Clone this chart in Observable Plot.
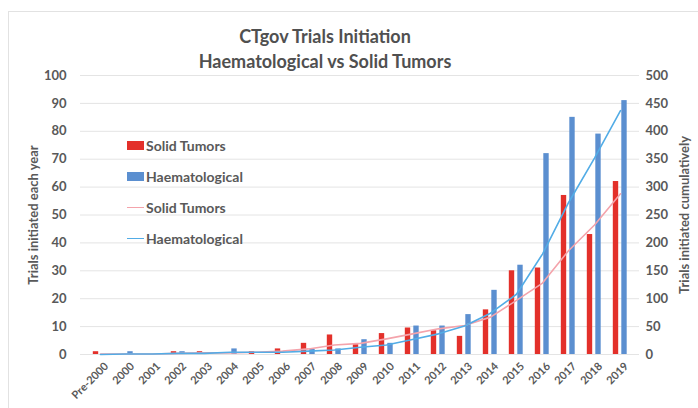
<!DOCTYPE html>
<html>
<head>
<meta charset="utf-8">
<script src="https://cdn.jsdelivr.net/npm/d3@7"></script>
<script src="https://cdn.jsdelivr.net/npm/@observablehq/plot@0.6"></script>
<style>
  html, body { margin: 0; padding: 0; background: #fff; }
  #wrap { position: relative; width: 698px; height: 408px; overflow: hidden; font-family: Lato, "Open Sans", sans-serif; }
  #frame { position: absolute; left: 8px; top: 11px; width: 720px; height: 420px; border: 1px solid #e2e2e2; box-sizing: border-box; pointer-events: none; }
  #title { position: absolute; left: 0; top: 24px; width: 650px; text-align: center; font-weight: 700; font-size: 18px; line-height: 25px; color: #505050; }
  #legend { position: absolute; left: 127px; top: 130px; font-weight: 700; font-size: 14px; color: #595959; }
  .row { height: 31px; display: flex; align-items: center; }
  .sw { width: 17px; height: 9px; margin-right: 2px; }
  .ln { width: 17px; height: 0; border-top: 1.5px solid; margin-right: 2px; }
</style>
</head>
<body>
<div id="wrap">
  <div id="frame"></div>
  <div id="chart"></div>
  <div id="title">CTgov Trials Initiation<br>Haematological vs Solid Tumors</div>
  <div id="legend"></div>
</div>
<script>
const categories = ["Pre-2000","2000","2001","2002","2003","2004","2005","2006","2007","2008","2009","2010","2011","2012","2013","2014","2015","2016","2017","2018","2019"];
const solidAnnual = [1,0,0,1,1,0,1,2,4,7,3.5,7.5,9.5,8.5,6.5,16,30,31,57,43,62];
const haemAnnual  = [0,1,0,1,0,2,0,0,1.8,2,5.3,4,10.2,10.2,14.3,23,32,72,85,79,91];
const solidCumulative = [1,1,1,2,3,3,4,6,10,17,20,28,37,46,52,67,97,128,186,232,288];
const haemCumulative  = [0,1,1,2,2,4,4,4,6,8,13,17,27,37,51,74,108,180,272,352,437];
const leftTicks = [0,10,20,30,40,50,60,70,80,90,100];
const rightScaleFactor = 5;

const colors = { solidBar: "#E3302A", haemBar: "#5B8FD0", solidLine: "#F4A3AB", haemLine: "#52ACE6" };

const rows = categories.map((c, i) => ({
  cat: c,
  solid: solidAnnual[i],
  haem: haemAnnual[i],
  solidCum: solidCumulative[i] / rightScaleFactor,
  haemCum: haemCumulative[i] / rightScaleFactor
}));

const W = 698, H = 408, mL = 80, mR = 59;
const bw = (W - mL - mR) / categories.length;
const half = bw / 2;

const chart = Plot.plot({
  width: W, height: H,
  marginLeft: mL, marginRight: mR, marginTop: 75, marginBottom: 54,
  style: { fontFamily: "Lato, 'Open Sans', sans-serif", fontWeight: "700", color: "#595959", background: "transparent", overflow: "visible" },
  x: { type: "band", domain: categories, padding: 0 },
  y: { domain: [0, 100] },
  marks: [
    Plot.ruleY(leftTicks, { stroke: "#e4e4e4", strokeWidth: 1 }),
    Plot.barY(rows, { x: "cat", y: "solid", fill: colors.solidBar, insetLeft: half - 7.5, insetRight: half + 1.5 }),
    Plot.barY(rows, { x: "cat", y: "haem", fill: colors.haemBar, insetLeft: half + 1, insetRight: half - 7 }),
    Plot.lineY(rows, { x: "cat", y: "solidCum", stroke: colors.solidLine, strokeWidth: 1.6 }),
    Plot.lineY(rows, { x: "cat", y: "haemCum", stroke: colors.haemLine, strokeWidth: 1.6 }),
    Plot.axisX({ tickSize: 0, tickRotate: -45, tickPadding: 4, fontSize: 11, label: null, dx: 6, dy: 6 }),
    Plot.axisY({ anchor: "left", ticks: leftTicks, tickSize: 0, tickPadding: 14, fontSize: 13,
      label: "Trials initiated each year", labelAnchor: "center", labelOffset: 52, labelArrow: "none" }),
    Plot.axisY({ anchor: "right", ticks: leftTicks, tickSize: 0, tickPadding: 6, fontSize: 13,
      tickFormat: d => String(d * rightScaleFactor),
      label: "Trials initiated cumulatively", labelAnchor: "center", labelOffset: 49, labelArrow: "none" })
  ]
});
document.getElementById("chart").appendChild(chart);

const legendItems = [
  { label: "Solid Tumors", color: colors.solidBar, kind: "sw" },
  { label: "Haematological", color: colors.haemBar, kind: "sw" },
  { label: "Solid Tumors", color: colors.solidLine, kind: "ln" },
  { label: "Haematological", color: colors.haemLine, kind: "ln" }
];
const leg = document.getElementById("legend");
legendItems.forEach(it => {
  const r = document.createElement("div");
  r.className = "row";
  const s = document.createElement("span");
  s.className = it.kind;
  if (it.kind === "sw") s.style.background = it.color; else s.style.borderTopColor = it.color;
  const t = document.createElement("span");
  t.textContent = it.label;
  r.appendChild(s); r.appendChild(t);
  leg.appendChild(r);
});
</script>
</body>
</html>
